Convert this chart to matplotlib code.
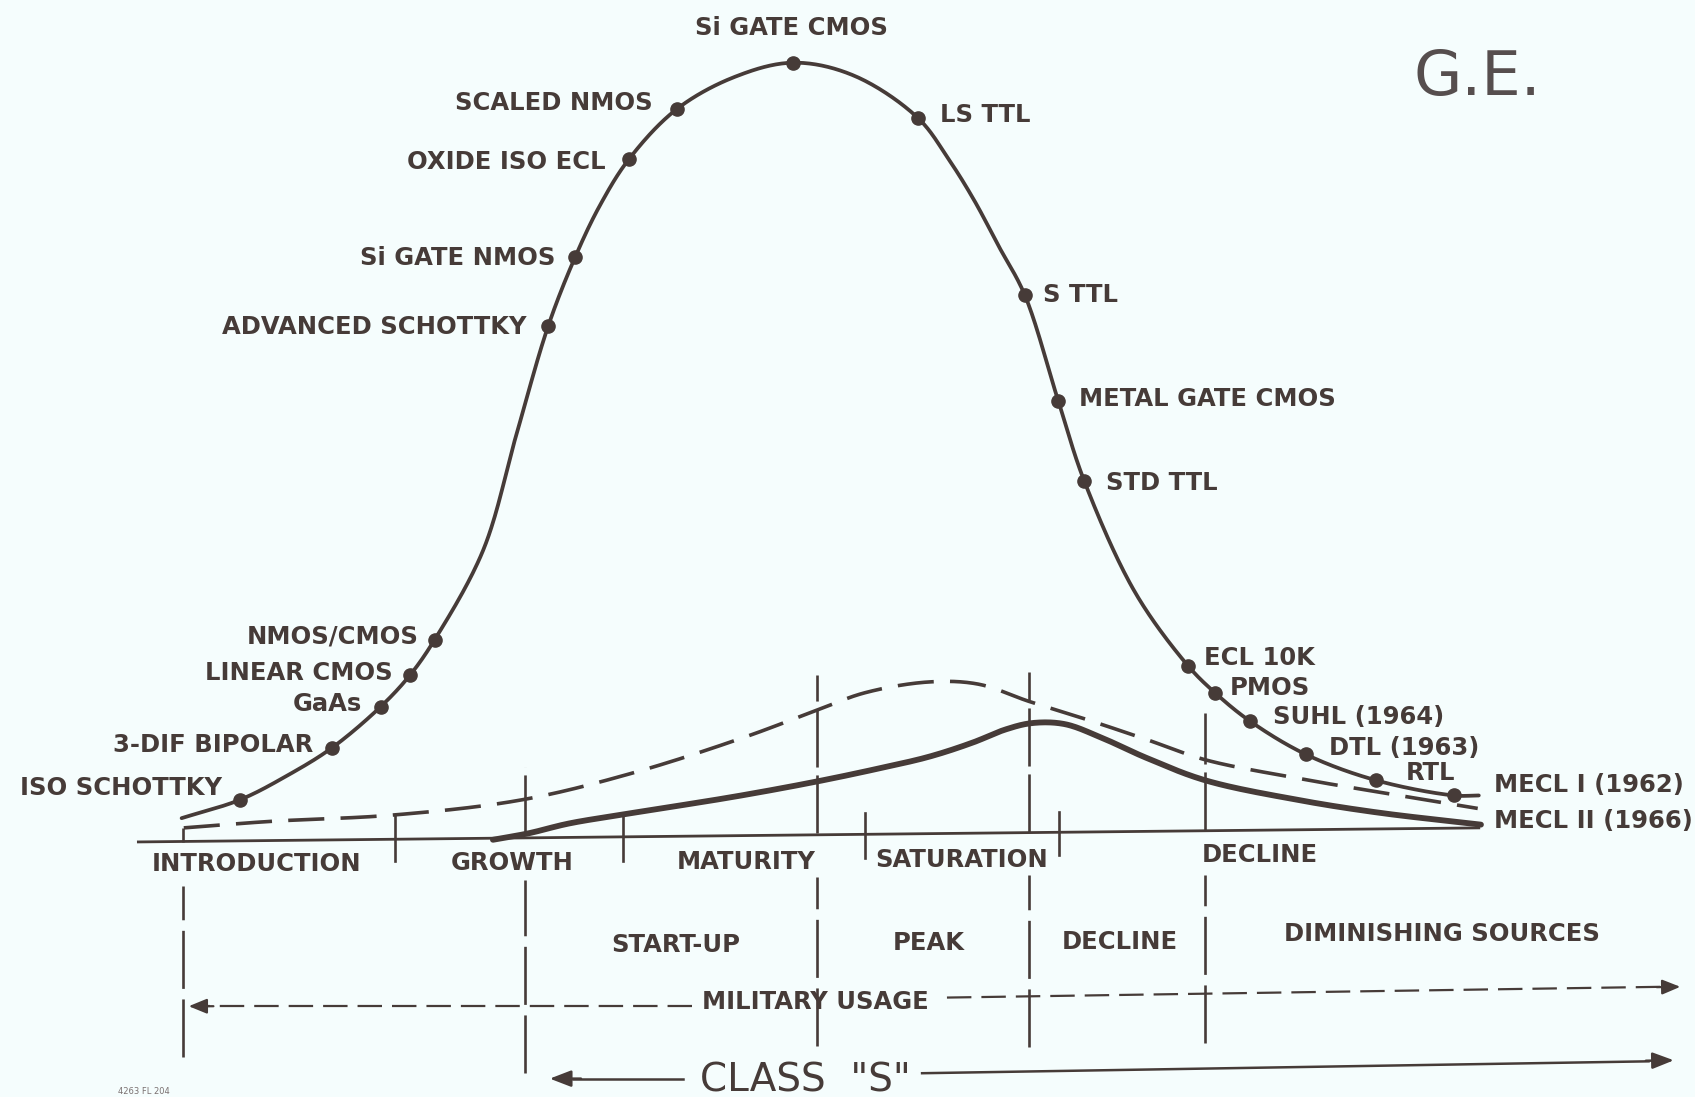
import numpy as np
import matplotlib
matplotlib.use("Agg")
import matplotlib.pyplot as plt

# ---------------- data (x = life-cycle position, h = relative usage level) ----------------
tech_names = ["ISO SCHOTTKY", "3-DIF BIPOLAR", "GaAs", "LINEAR CMOS", "NMOS/CMOS",
              "ADVANCED SCHOTTKY", "Si GATE NMOS", "OXIDE ISO ECL", "SCALED NMOS",
              "Si GATE CMOS", "LS TTL", "S TTL", "METAL GATE CMOS", "STD TTL",
              "ECL 10K", "PMOS", "SUHL (1964)", "DTL (1963)", "RTL", "MECL I (1962)"]
tech_x = [222, 307, 352, 379, 402, 507, 532, 582, 626, 734, 849, 948, 979, 1003,
          1099, 1124, 1156, 1208, 1273, 1345]
tech_h = [35, 83, 121, 150, 183, 473, 537, 628, 674, 717, 666, 502, 404, 330,
          159, 134, 108, 77, 53, 39]

# additional points read along the main (technology) curve between the dots
main_extra_x = [168, 265, 447, 478, 555, 680, 790, 878, 901, 924, 1050, 1368]
main_extra_h = [18, 57, 266, 374, 585, 704, 705, 627, 590, 547, 227, 39]

# dashed curve
dash_x = [170, 250, 365, 483, 586, 689, 756, 800, 859, 905, 952, 1000, 1060, 1115, 1200, 1276, 1367]
dash_h = [9, 15, 21, 35, 60, 93, 118, 134, 144, 142, 126, 111, 91, 72, 55, 42, 27]

# lower solid curve (MECL II)
low_x = [456, 489, 526, 580, 680, 756, 813, 860, 900, 930, 955, 985, 1020, 1060, 1115, 1200, 1276, 1370]
low_h = [-2, 4, 13, 22, 38, 52, 64, 75, 88, 100, 106, 105, 92, 74, 53, 35, 23, 12]

# time axis
baseline_x = [128, 1368]
baseline_h = [-4, 9]

phase_names = ["INTRODUCTION", "GROWTH", "MATURITY", "SATURATION", "DECLINE"]
phase_x = [237, 474, 690, 890, 1165]
phase_h = [-23, -22, -21, -19, -15]

supply_names = ["START-UP", "PEAK", "DECLINE", "DIMINISHING SOURCES"]
supply_x = [625, 859, 1036, 1334]
supply_h = [-98, -96, -95, -88]

# phase boundaries (dashed verticals): x, upper part top/bottom, lower part top/bottom
bound_x = [169, 486, 756, 952, 1115]
bound_up_top = [9, 65, 150, 153, 115]
bound_up_bot = [-4, 4, 4, 5, 7]
bound_lo_top = [-45, -39, -36, -35, -35]
bound_lo_bot = [-203, -218, -193, -194, -190]

# short ticks on the time axis
tick_x = [365, 576, 800, 980]
tick_top = [21, 19, 23, 24]
tick_bot = [-22, -22, -19, -16]

# ---------------- style ----------------
INK = "#463b38"
BG = "#f5fdfd"
FONT = "DejaVu Sans"
LBL = 17.5
CAP = 8.0   # half cap height in data units for cap-centred placement


def smooth(x, y, n=30):
    """centripetal Catmull-Rom curve drawn through the given points"""
    pts = np.column_stack([x, y]).astype(float)
    P = np.vstack([2 * pts[0] - pts[1], pts, 2 * pts[-1] - pts[-2]])
    out = []
    for i in range(1, len(P) - 2):
        p0, p1, p2, p3 = P[i - 1], P[i], P[i + 1], P[i + 2]
        t0 = 0.0
        t1 = t0 + np.linalg.norm(p1 - p0) ** 0.5
        t2 = t1 + np.linalg.norm(p2 - p1) ** 0.5
        t3 = t2 + np.linalg.norm(p3 - p2) ** 0.5
        t = np.linspace(t1, t2, n, endpoint=False)[:, None]
        a1 = (t1 - t) / (t1 - t0) * p0 + (t - t0) / (t1 - t0) * p1
        a2 = (t2 - t) / (t2 - t1) * p1 + (t - t1) / (t2 - t1) * p2
        a3 = (t3 - t) / (t3 - t2) * p2 + (t - t2) / (t3 - t2) * p3
        b1 = (t2 - t) / (t2 - t0) * a1 + (t - t0) / (t2 - t0) * a2
        b2 = (t3 - t) / (t3 - t1) * a2 + (t - t1) / (t3 - t1) * a3
        c = (t2 - t) / (t2 - t1) * b1 + (t - t1) / (t2 - t1) * b2
        out.append(c)
    out.append(pts[-1:])
    s = np.vstack(out)
    return s[:, 0], s[:, 1]


def label(x, h, s, ha="center", size=LBL, weight="bold", **kw):
    ax.text(x, h - CAP * size / LBL, s, ha=ha, va="baseline", fontsize=size,
            fontweight=weight, color=INK, family=FONT, **kw)


fig = plt.figure(figsize=(16.95, 10.97), dpi=100, facecolor=BG)
ax = fig.add_axes([0, 0, 1, 1])
ax.set_facecolor(BG)
ax.set_xlim(0, 1568)
ax.set_ylim(-240, 775)
ax.axis("off")

# main curve
mx = np.array(tech_x + main_extra_x)
mh = np.array(tech_h + main_extra_h)
order = np.argsort(mx)
sx, sh = smooth(mx[order], mh[order])
ax.plot(sx, sh, color=INK, lw=2.7, solid_capstyle="round", zorder=3)
ax.plot(tech_x, tech_h, "o", color=INK, ms=9.5, zorder=4)

# dashed curve
dx_, dh_ = smooth(dash_x, dash_h)
ax.plot(dx_, dh_, color=INK, lw=2.6, dashes=(10, 4.5), zorder=3)

# lower thick curve
lx_, lh_ = smooth(low_x, low_h)
ax.plot(lx_, lh_, color=INK, lw=4.2, solid_capstyle="round", zorder=3)

# baseline
ax.plot(baseline_x, baseline_h, color=INK, lw=2.0, zorder=2)

# boundaries
for x, ut, ub, lt, lb in zip(bound_x, bound_up_top, bound_up_bot, bound_lo_top, bound_lo_bot):
    ax.plot([x, x], [ub, ut], color=INK, lw=1.9, dashes=(22, 3), zorder=2)
    ax.plot([x, x], [lb, lt], color=INK, lw=1.9, dashes=(22, 4), zorder=2)
for x, t, b in zip(tick_x, tick_top, tick_bot):
    ax.plot([x, x], [b, t], color=INK, lw=1.9, zorder=2)

# technology labels
left_dx = {"ISO SCHOTTKY": (-17, 12), "3-DIF BIPOLAR": (-17, 4), "GaAs": (-17, 4),
           "LINEAR CMOS": (-16, 4), "NMOS/CMOS": (-15, 5), "ADVANCED SCHOTTKY": (-20, 1),
           "Si GATE NMOS": (-18, 1), "OXIDE ISO ECL": (-22, -1), "SCALED NMOS": (-22, 7)}
right_dx = {"LS TTL": (21, 4), "S TTL": (17, 2), "METAL GATE CMOS": (19, 3),
            "STD TTL": (20, 0), "ECL 10K": (15, 9), "PMOS": (14, 6), "SUHL (1964)": (22, 5),
            "DTL (1963)": (21, 7), "RTL": (27, 8), "MECL I (1962)": (37, 11)}
for name, x, h in zip(tech_names, tech_x, tech_h):
    if name in left_dx:
        ox, oy = left_dx[name]
        label(x + ox, h + oy, name, ha="right")
    elif name in right_dx:
        ox, oy = right_dx[name]
        label(x + ox, h + oy, name, ha="left")
    else:
        label(x - 2, h + 34, name, ha="center")
label(1382, 17, "MECL II (1966)", ha="left")

for name, x, h in zip(phase_names, phase_x, phase_h):
    label(x, h, name)
for name, x, h in zip(supply_names, supply_x, supply_h):
    label(x, h, name)

# military usage
label(754, -151, "MILITARY USAGE")
ax.plot([640, 180], [-156, -156], color=INK, lw=1.6, dashes=(11, 4.5), zorder=2)
ax.plot([876, 1540], [-148, -138], color=INK, lw=1.6, dashes=(11, 4.5), zorder=2)
ax.annotate("", xy=(172, -156), xytext=(200, -156),
            arrowprops=dict(arrowstyle="-|>,head_length=1.1,head_width=0.45", color=INK, lw=1.6))
ax.annotate("", xy=(1557, -138), xytext=(1530, -138.4),
            arrowprops=dict(arrowstyle="-|>,head_length=1.1,head_width=0.45", color=INK, lw=1.6))

# class S
label(745, -222, 'CLASS  "S"', size=28, weight="normal")
ax.plot([632, 530], [-223, -223], color=INK, lw=1.8, zorder=2)
ax.annotate("", xy=(506, -223), xytext=(540, -223),
            arrowprops=dict(arrowstyle="-|>,head_length=1.3,head_width=0.5", color=INK, lw=1.8))
ax.plot([853, 1525], [-218, -207], color=INK, lw=1.8, zorder=2)
ax.annotate("", xy=(1551, -206), xytext=(1520, -206.5),
            arrowprops=dict(arrowstyle="-|>,head_length=1.3,head_width=0.5", color=INK, lw=1.8))

# corner marks
ax.text(1367, 703, "G.E.", ha="center", va="center", fontsize=45, color="#564e4e",
        family=FONT, fontweight="normal")
ax.text(133, -235, "4263 FL 204", ha="center", va="center", fontsize=6, color="#7a7070",
        family=FONT)

fig.savefig("out.png", dpi=100, facecolor=BG)
